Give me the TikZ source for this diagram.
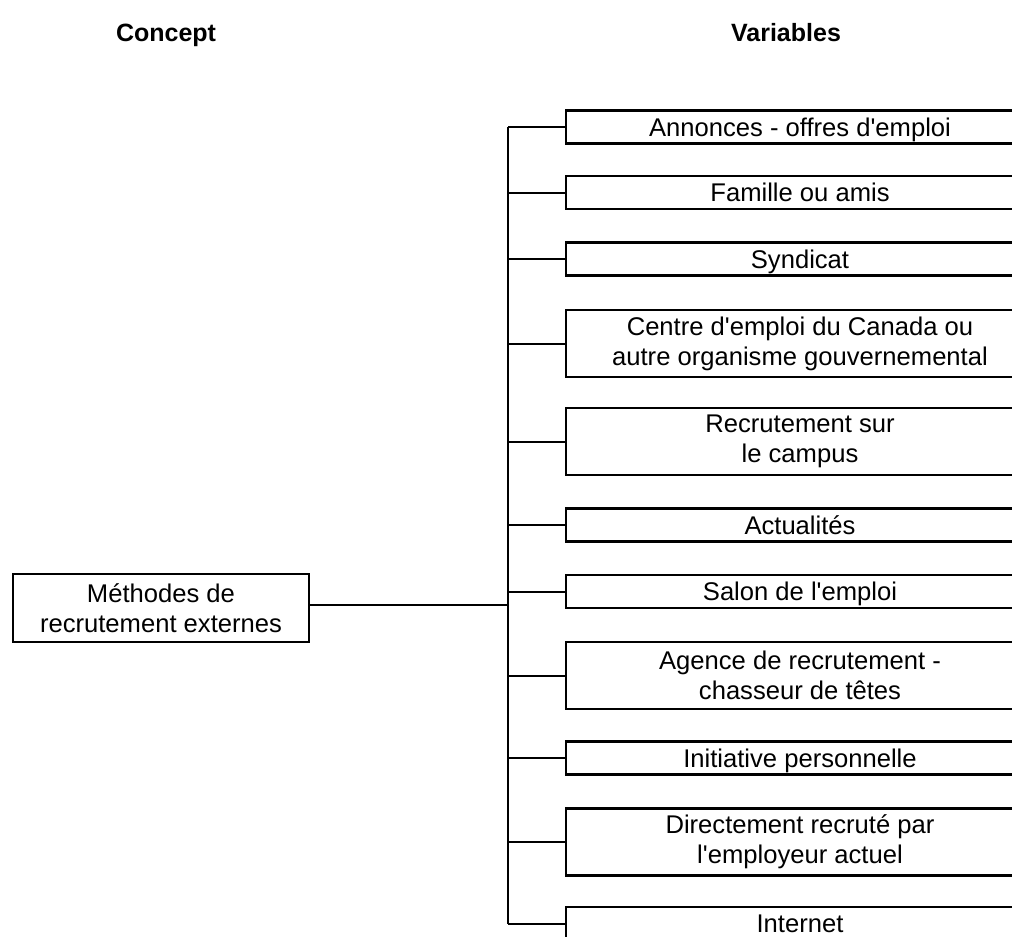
\documentclass[tikz,border=0pt]{standalone}
\usepackage{fontspec}
\setmainfont{Liberation Sans}
\newcommand{\apos}{\textquotesingle}
\begin{document}
\begin{tikzpicture}[x=1pt,y=-1pt,
  txt/.style={font=\fontsize{25.6}{30}\selectfont, align=center},
  head/.style={font=\fontsize{25}{30}\selectfont\bfseries, anchor=base},
  varbox/.style={txt, draw, line width=2.8pt, minimum width=468pt, inner sep=0pt, anchor=center},
  single/.style={varbox, minimum height=33pt, text height=23pt, text depth=5pt},
  double/.style={varbox, minimum height=67pt},
  link/.style={line width=2pt}]
  \useasboundingbox (0,0) rectangle (1012,937);
  \clip (0,0) rectangle (1012,937);

  % column headings
  \node[head] (hconcept) at (166,41) {Concept};
  \node[head] (hvars) at (786,41) {Variables};

  % concept box
  \node[txt, draw, line width=2.8pt, minimum width=296pt, minimum height=68pt, inner sep=0pt]
    (concept) at (161,608) {Méthodes de\\recrutement externes};

  % variable boxes
  \node[single] (v1)  at (800,127)   {Annonces - offres d\apos emploi};
  \node[single] (v2)  at (800,192.5) {Famille ou amis};
  \node[single] (v3)  at (800,259)   {Syndicat};
  \node[double] (v4)  at (800,343.5) {Centre d\apos emploi du Canada ou\\autre organisme gouvernemental};
  \node[double] (v5)  at (800,441.5) {Recrutement sur\\le campus};
  \node[single] (v6)  at (800,525)   {Actualités};
  \node[single] (v7)  at (800,591.5) {Salon de l\apos emploi};
  \node[double] (v8)  at (800,675.5) {Agence de recrutement -\\chasseur de têtes};
  \node[single] (v9)  at (800,758)   {Initiative personnelle};
  \node[double] (v10) at (800,842)   {Directement recruté par\\l\apos employeur actuel};
  \node[single] (v11) at (800,923.5) {Internet};

  % trunk of the bracket
  \coordinate (ttop) at (508,127);
  \coordinate (tbot) at (508,923.5);
  \draw[link] (ttop) -- (tbot);

  % concept to trunk
  \draw[link] (concept.east |- 0,605) -- (ttop |- 0,605);

  % trunk to each variable box
  \foreach \v in {v1,v2,v3,v4,v5,v6,v7,v8,v9,v10,v11}
    \draw[link] (ttop |- \v.west) -- (\v.west);
\end{tikzpicture}
\end{document}
